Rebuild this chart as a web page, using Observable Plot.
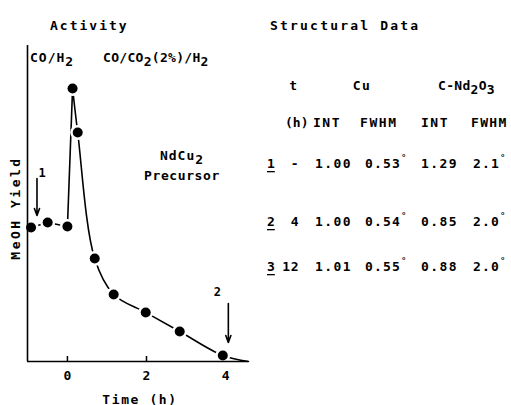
<!DOCTYPE html>
<html><head><meta charset="utf-8">
<script src="https://cdn.jsdelivr.net/npm/d3@7"></script>
<script src="https://cdn.jsdelivr.net/npm/@observablehq/plot@0.6"></script>
<style>
body{margin:0;background:#fff}
svg{font-family:"DejaVu Sans Mono",monospace}
</style>
</head><body><div id="chart"></div>
<script>
// ---- data (yield in arbitrary units) ----
const times  = [-0.92, -0.50, 0.00, 0.13, 0.26, 0.69, 1.17, 1.98, 2.84, 3.93];
const yields = [134, 139, 135, 273, 229, 103, 67, 49, 30, 6];
const tailTime = 4.58, tailYield = 0;          // end of the fitted curve
const xTicks = [0, 2, 4];
const arrowTimes = [-0.77, 4.07];
const arrowTop = [183, 58];
const arrowTip = [146, 19];
const arrowLabels = ["1", "2"];
const arrowLabelTimes = [-0.64, 3.79];
const arrowLabelYields = [188, 69];

// table
const rowIds  = ["1", "2", "3"];
const tHours  = ["-", "4", "12"];
const cuInt   = ["1.00", "1.00", "1.01"];
const cuFwhm  = ["0.53", "0.54", "0.55"];
const ndInt   = ["1.29", "0.85", "0.88"];
const ndFwhm  = ["2.1", "2.0", "2.0"];

const pts = times.map((t, i) => ({t, y: yields[i]}));
const rise = pts.slice(0, 4);
const decay = pts.slice(3).concat([{t: tailTime, y: tailYield}]);
const arrows = arrowTimes.map((t, i) => ({t, y1: arrowTop[i], y2: arrowTip[i]}));
const arrowText = arrowLabels.map((l, i) => ({l, t: arrowLabelTimes[i], y: arrowLabelYields[i]}));

const chart = Plot.plot({
  width: 511, height: 405,
  marginLeft: 27, marginRight: 263, marginTop: 45, marginBottom: 44,
  x: {domain: [-1.01, 4.58], label: null},
  y: {domain: [0, 316], axis: null},
  style: {fontFamily: '"DejaVu Sans Mono",monospace', fontSize: "13px", color: "#000", background: "#fff", overflow: "visible"},
  marks: [
    Plot.axisX({ticks: xTicks, tickSize: 0, tickPadding: 9, tickFormat: d => String(d), fontSize: 13, fontWeight: "bold", label: null}),
    Plot.ruleX(xTicks, {y1: 0, y2: 5, strokeWidth: 1.5}),
    Plot.line(rise, {x: "t", y: "y", strokeWidth: 1.6}),
    Plot.line(decay, {x: "t", y: "y", curve: "catmull-rom", strokeWidth: 1.6}),
    Plot.dot(pts, {x: "t", y: "y", r: 7.5, fill: "white"}),
    Plot.ruleY([0], {strokeWidth: 1.6}),
    Plot.ruleX([-1.01], {strokeWidth: 1.6}),
    Plot.dot(pts, {x: "t", y: "y", r: 5, fill: "black"}),
    Plot.arrow(arrows, {x1: "t", x2: "t", y1: "y1", y2: "y2", headLength: 7, headAngle: 40, strokeWidth: 1.6}),
    Plot.text(arrowText, {x: "t", y: "y", text: "l", fontSize: 12, fontWeight: "bold"})
  ]
});
document.getElementById("chart").appendChild(chart);

const svg = d3.select(chart);
const xs = chart.scale("x"), ys = chart.scale("y");
const g = svg.append("g").attr("fill", "black").attr("font-size", 13).attr("font-weight", "bold");

function label(x, y, parts, o = {}) {
  const t = g.append("text").attr("x", x).attr("y", y)
    .attr("dominant-baseline", "central")
    .attr("text-anchor", o.anchor || "start")
    .attr("letter-spacing", o.ls != null ? o.ls : 1.5);
  if (o.size) t.attr("font-size", o.size);
  if (o.weight) t.attr("font-weight", o.weight);
  if (o.deco) t.attr("text-decoration", o.deco);
  if (o.transform) t.attr("transform", o.transform);
  let shift = 0;
  for (const p of parts) {
    const [s, kind] = Array.isArray(p) ? p : [p, null];
    const target = kind === "sub" ? 4 : kind === "sup" ? -5 : 0;
    const ts = t.append("tspan").text(s);
    if (target !== shift) ts.attr("dy", target - shift);
    if (kind === "sup") ts.attr("font-size", 9);
    shift = target;
  }
  return t;
}

// titles
label(50, 25, ["Activity"], {ls: 2});
label(270, 25, ["Structural Data"], {ls: 2.2});
// gas labels
label(30, 57, ["CO/H", ["2", "sub"]], {ls: 1});
label(103, 57, ["CO/CO", ["2", "sub"], "(2%)/H", ["2", "sub"]], {ls: 0.3});
// precursor label, placed at data coordinates
label(xs.apply(2.91), ys.apply(206), ["NdCu", ["2", "sub"]], {anchor: "middle", ls: 1});
label(xs.apply(2.91), ys.apply(186), ["Precursor"], {anchor: "middle", ls: 0.6});
// axis titles
label(140, 399, ["Time (h)"], {anchor: "middle", ls: 1.6});
label(0, 0, ["MeOH Yield"], {anchor: "middle", ls: 2.5, transform: "translate(15,208) rotate(-90)"});

// table headers
label(294, 85, ["t"], {anchor: "middle"});
label(362, 85, ["Cu"], {anchor: "middle"});
label(438, 85, ["C-Nd", ["2", "sub"], "O", ["3", "sub"]], {ls: 0.3});
label(285, 122, ["(h)"], {ls: 0});
label(313, 122, ["INT"], {ls: 1.5});
label(360, 122, ["FWHM"], {ls: 1.6});
label(421, 122, ["INT"], {ls: 1.5});
label(471, 122, ["FWHM"], {ls: 1.3});

// table rows
const rowY = [163, 221, 266];
rowIds.forEach((id, i) => {
  const y = rowY[i];
  label(267, y, [id], {deco: "underline", ls: 0});
  label(299, y, [tHours[i]], {anchor: "end", ls: 0.5});
  label(315, y, [cuInt[i]], {ls: 1.4});
  label(365, y, [cuFwhm[i], ["°", "sup"]], {ls: 1.2});
  label(421, y, [ndInt[i]], {ls: 1.4});
  label(473, y, [ndFwhm[i], ["°", "sup"]], {ls: 1.2});
});
</script>
</body></html>
